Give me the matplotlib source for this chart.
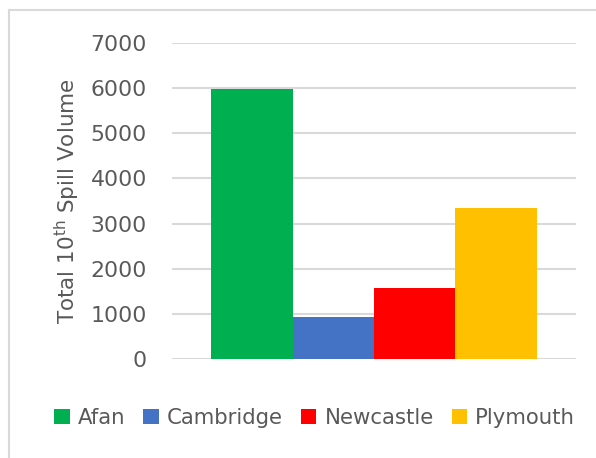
import matplotlib.pyplot as plt
from matplotlib.patches import Patch
from matplotlib.lines import Line2D

sites = ["Afan", "Cambridge", "Newcastle", "Plymouth"]
volumes = [5980, 925, 1570, 3350]
colors = ["#00B050", "#4472C4", "#FF0000", "#FFC000"]
yticks = [0, 1000, 2000, 3000, 4000, 5000, 6000, 7000]

text_col = "#595959"
plt.rcParams['font.family'] = ['DejaVu Sans']

fig = plt.figure(figsize=(5.96, 4.58), dpi=100)
ax = fig.add_axes([0.2886, 0.2162, 0.6778, 0.6899])

bar_w = 0.2012
n = len(sites)
for i, (s, v, c) in enumerate(zip(sites, volumes, colors)):
    x = (i - (n - 1) / 2) * bar_w
    ax.bar(x, v, width=bar_w, color=c, zorder=3, label=s)

ax.set_xlim(-0.5, 0.5)
ax.set_ylim(0, 7000)
ax.set_yticks(yticks)
ax.set_xticks([])
ax.yaxis.grid(True, color="#D9D9D9", linewidth=1.5, zorder=0)
ax.set_axisbelow(True)
for sp in ax.spines.values():
    sp.set_visible(False)
ax.tick_params(axis='y', length=0, pad=18, labelsize=15.8, labelcolor=text_col)
ax.set_ylabel("Total 10$^{\\mathregular{th}}$ Spill Volume", fontsize=15.5,
              color=text_col, labelpad=6)

handles = [Patch(facecolor=c, edgecolor='none') for c in colors]
fig.legend(handles, sites, loc='center', bbox_to_anchor=(0.528, 0.087), ncol=4,
           frameon=False, fontsize=15.3, labelcolor=text_col,
           handlelength=0.72, handleheight=0.72, handletextpad=0.38,
           columnspacing=0.86)

# chart area border (top and left edges visible)
fig.add_artist(Line2D([0.015, 1.0], [1 - 10 / 458, 1 - 10 / 458],
                      transform=fig.transFigure, color="#D9D9D9", linewidth=1.5))
fig.add_artist(Line2D([0.015, 0.015], [0.0, 1 - 10 / 458],
                      transform=fig.transFigure, color="#D9D9D9", linewidth=1.5))

fig.savefig("out.png", dpi=100)
